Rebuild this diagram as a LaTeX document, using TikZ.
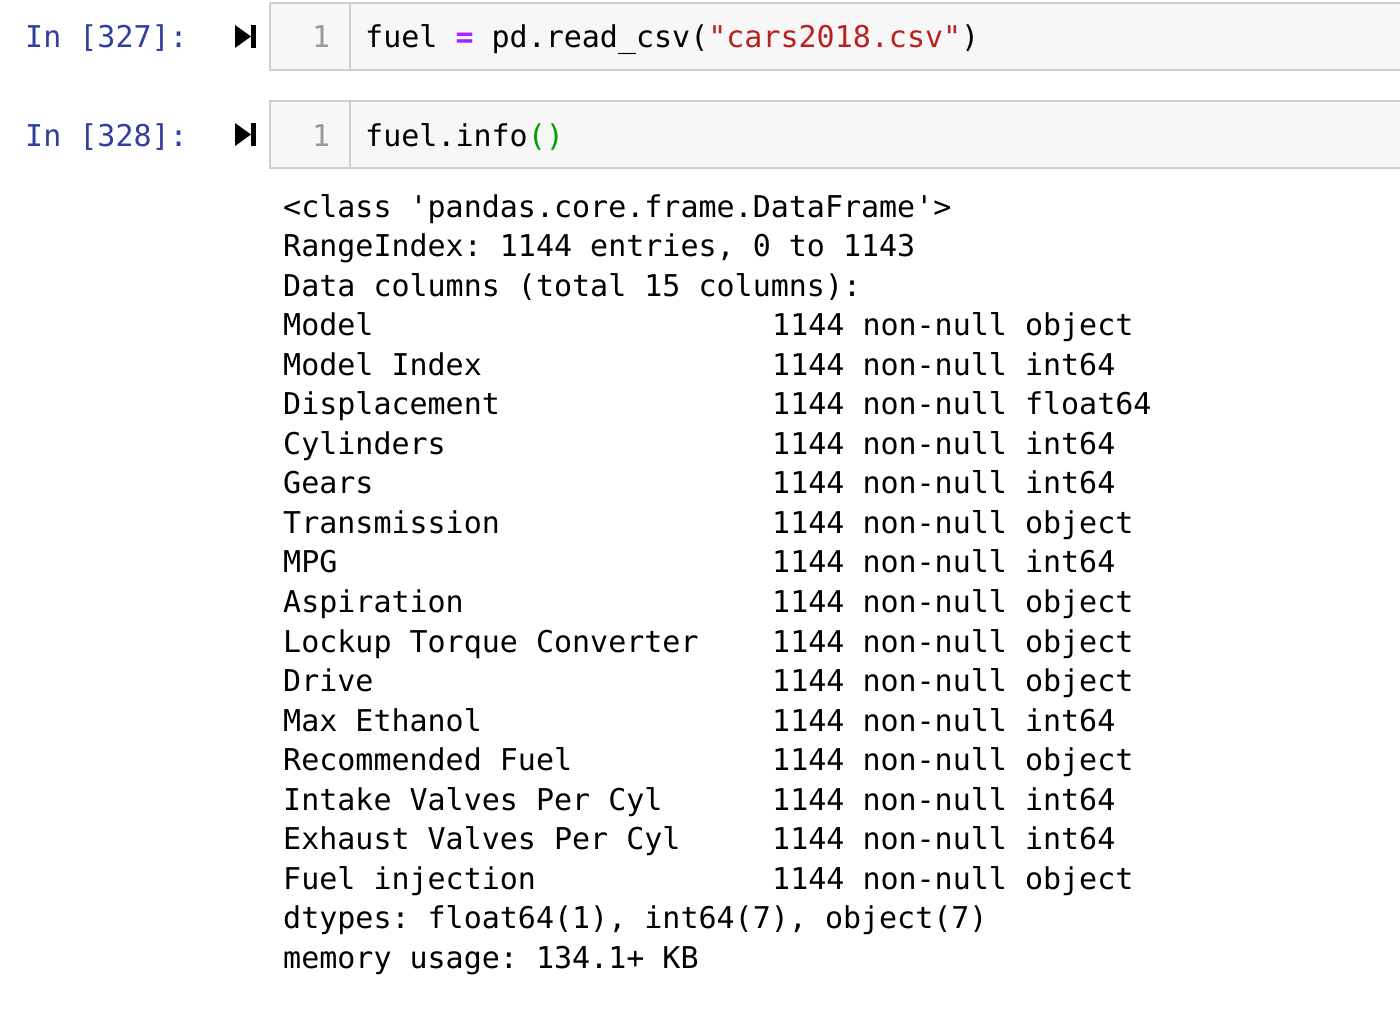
\documentclass[tikz,border=0pt]{standalone}
\usepackage{fontspec}
\newfontfamily\mono{DejaVu Sans Mono}
\definecolor{promptc}{HTML}{303F9F}
\definecolor{cellbg}{HTML}{F7F7F7}
\definecolor{cellbd}{HTML}{CFCFCF}
\definecolor{strc}{HTML}{BA2121}
\definecolor{opc}{HTML}{AA22FF}
\definecolor{parc}{HTML}{00A000}
\definecolor{lnc}{HTML}{999999}
\frenchspacing
\begin{document}
\begin{tikzpicture}[x=1pt,y=-1pt,
  txt/.style={anchor=base west,inner sep=0pt,font=\mono\fontsize{30}{35}\selectfont\frenchspacing},
  prompt/.style={txt,text=promptc},
  cellbox/.style={draw=cellbd,fill=cellbg,line width=2pt}]
\useasboundingbox (0,0) rectangle (1400,1021);
% cell 1
\draw[cellbox] (270,3) rectangle (1410,70);
\draw[cellbd,line width=1.5pt] (350,4) -- (350,69);
\node[prompt] (p1) at (25,47) {In [327]:};
\fill (235,25) -- (251,36.5) -- (235,48) -- cycle;
\fill (251,25) rectangle (256,48);
\node[txt,text=lnc] (n1) at (312,47) {1};
\node[txt] (c1) at (365,47) {fuel \textcolor{opc}{\textbf{=}} pd.read\_csv(\textcolor{strc}{"cars2018.csv"})};
% cell 2
\draw[cellbox] (270,101) rectangle (1410,168);
\draw[cellbd,line width=1.5pt] (350,102) -- (350,167);
\node[prompt] (p2) at (25,146) {In [328]:};
\fill (235,123) -- (251,134.5) -- (235,146) -- cycle;
\fill (251,123) rectangle (256,146);
\node[txt,text=lnc] (n2) at (312,146) {1};
\node[txt] (c2) at (365,146) {fuel.info\textcolor{parc}{()}};
% output
\foreach \i/\a/\b in {
 0/{<class 'pandas.core.frame.DataFrame'>}/{},
 1/{RangeIndex: 1144 entries, 0 to 1143}/{},
 2/{Data columns (total 15 columns):}/{},
 3/{Model}/{1144 non-null object},
 4/{Model Index}/{1144 non-null int64},
 5/{Displacement}/{1144 non-null float64},
 6/{Cylinders}/{1144 non-null int64},
 7/{Gears}/{1144 non-null int64},
 8/{Transmission}/{1144 non-null object},
 9/{MPG}/{1144 non-null int64},
 10/{Aspiration}/{1144 non-null object},
 11/{Lockup Torque Converter}/{1144 non-null object},
 12/{Drive}/{1144 non-null object},
 13/{Max Ethanol}/{1144 non-null int64},
 14/{Recommended Fuel}/{1144 non-null object},
 15/{Intake Valves Per Cyl}/{1144 non-null int64},
 16/{Exhaust Valves Per Cyl}/{1144 non-null int64},
 17/{Fuel injection}/{1144 non-null object},
 18/{dtypes: float64(1), int64(7), object(7)}/{},
 19/{memory usage: 134.1+ KB}/{}}
{
 \node[txt] (oa\i) at (283,{217+39.55*\i}) {\a};
 \node[txt] (ob\i) at (772,{217+39.55*\i}) {\b};
}
\end{tikzpicture}
\end{document}
